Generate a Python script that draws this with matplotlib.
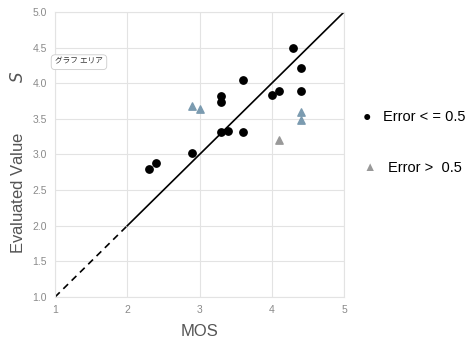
import matplotlib.pyplot as plt

plt.rcParams["font.family"] = ["Liberation Sans", "Noto Sans CJK JP"]

# points with error <= 0.5
good_mos = [4.3, 4.4, 4.4, 4.1, 4.0, 3.6, 3.3, 3.3, 3.3, 3.4, 3.6, 2.9, 2.3, 2.4]
good_val = [4.5, 4.21, 3.89, 3.89, 3.84, 4.05, 3.82, 3.73, 3.31, 3.33, 3.32, 3.02, 2.79, 2.88]

# points with error > 0.5
bad_mos = [2.9, 3.0, 4.4, 4.4]
bad_val = [3.68, 3.64, 3.6, 3.48]
gray_mos = [4.1]
gray_val = [3.21]

solid_line = [2, 5]
dashed_line = [1, 2]

x_ticks = [1, 2, 3, 4, 5]
y_ticks = [1.0, 1.5, 2.0, 2.5, 3.0, 3.5, 4.0, 4.5, 5.0]

fig = plt.figure(figsize=(4.73, 3.38), dpi=100)
ax = fig.add_axes([0.1163, 0.1213, 0.611, 0.8432])

ax.plot(dashed_line, dashed_line, color="black", lw=1.2, ls=(0, (4, 3)))
ax.plot(solid_line, solid_line, color="black", lw=1.2)

ax.scatter(good_mos, good_val, s=28, color="black", zorder=3)
ax.scatter(bad_mos, bad_val, s=28, marker="^", color="#7b9bb0", zorder=3)
ax.scatter(gray_mos, gray_val, s=28, marker="^", color="#999999", zorder=3)

ax.set_xlim(1, 5)
ax.set_ylim(1, 5)
ax.set_xticks(x_ticks)
ax.set_yticks(y_ticks)
ax.set_xticklabels([str(t) for t in x_ticks])
ax.set_yticklabels([f"{t:.1f}" for t in y_ticks])
ax.tick_params(length=0, labelsize=7.5, labelcolor="#8a8a8a", pad=6)
ax.grid(True, color="#e3e3e3", lw=0.8)
ax.set_axisbelow(True)
for sp in ax.spines.values():
    sp.set_color("#e3e3e3")

ax.set_xlabel("MOS", fontsize=12, color="#555555", labelpad=6)
ax.set_ylabel("Evaluated Value           $S$", fontsize=12, color="#555555")
ax.yaxis.set_label_coords(-0.1, 0.475)

# legend drawn outside on the right
fig.text(0.776, 0.653, "\u25cf", fontsize=10, color="black", ha="center", va="center")
fig.text(0.81, 0.653, "Error < = 0.5", fontsize=10.5, color="black", va="center")
fig.text(0.782, 0.503, "\u25b2", fontsize=9, color="#999999", ha="center", va="center")
fig.text(0.82, 0.503, "Error >  0.5", fontsize=10.5, color="black", va="center")

# tooltip box
fig.text(0.167, 0.816, "グラフ エリア", fontsize=5.5, color="#333333", ha="center", va="center",
         bbox=dict(boxstyle="round,pad=0.5", fc="white", ec="#cccccc", lw=0.6))

fig.savefig("out.png", dpi=100)
